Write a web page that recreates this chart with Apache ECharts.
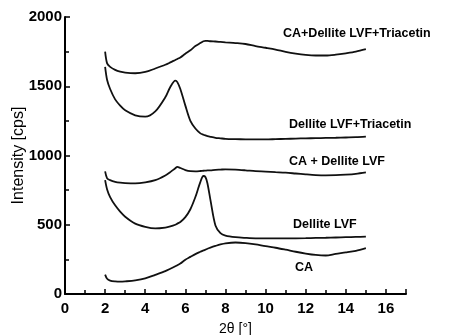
<!DOCTYPE html>
<html>
<head>
<meta charset="utf-8">
<script src="https://cdn.jsdelivr.net/npm/echarts@6/dist/echarts.min.js"></script>
<style>
  html, body { margin: 0; padding: 0; background: #fff; }
  #chart { width: 456px; height: 335px; }
</style>
</head>
<body>
<div id="chart"></div>
<script>
// 2theta positions (deg) shared by all curves
const twoTheta = [2, 2.1, 2.25, 2.5, 2.75, 3, 3.5, 4, 4.5, 5, 5.25, 5.5, 5.6, 5.75, 6, 6.25, 6.5, 6.75, 6.9, 7, 7.1, 7.25, 7.5, 7.75, 8, 8.5, 9, 9.5, 10, 10.5, 11, 11.5, 12, 12.5, 13, 13.5, 14, 14.5, 15];

const caDelliteTriacetin = [1750, 1665, 1640, 1618, 1605, 1598, 1594, 1603, 1628, 1655, 1672, 1690, 1697, 1708, 1735, 1760, 1790, 1812, 1825, 1828, 1828, 1825, 1823, 1820, 1817, 1812, 1805, 1790, 1778, 1765, 1748, 1735, 1726, 1722, 1722, 1728, 1738, 1750, 1768];
const delliteTriacetin = [1640, 1545, 1480, 1405, 1360, 1326, 1290, 1280, 1318, 1420, 1495, 1540, 1530, 1480, 1360, 1250, 1195, 1160, 1150, 1145, 1140, 1135, 1128, 1124, 1120, 1118, 1117, 1116, 1116, 1118, 1120, 1122, 1124, 1125, 1127, 1128, 1130, 1132, 1136];
const caDellite = [885, 835, 822, 810, 804, 801, 799, 806, 822, 856, 880, 908, 918, 910, 895, 887, 886, 888, 890, 891, 892, 893, 896, 898, 900, 898, 893, 887, 884, 880, 876, 870, 864, 859, 857, 858, 862, 868, 878];
const dellite = [822, 755, 700, 640, 595, 558, 508, 485, 474, 480, 488, 500, 508, 520, 555, 612, 700, 810, 852, 845, 800, 680, 495, 440, 422, 410, 405, 402, 402, 401, 402, 402, 403, 405, 406, 408, 410, 412, 414];
const ca = [140, 110, 97, 91, 89, 91, 98, 112, 138, 165, 182, 200, 208, 220, 248, 268, 288, 305, 315, 320, 327, 335, 347, 358, 366, 372, 368, 358, 345, 334, 320, 305, 292, 282, 278, 290, 300, 312, 332];

const seriesNames = ["CA+Dellite LVF+Triacetin", "Dellite LVF+Triacetin", "CA + Dellite LVF", "Dellite LVF", "CA"];
const seriesValues = [caDelliteTriacetin, delliteTriacetin, caDellite, dellite, ca];

const xTicks = [0, 2, 4, 6, 8, 10, 12, 14, 16];
const yTicks = [0, 500, 1000, 1500, 2000];

const chart = echarts.init(document.getElementById("chart"), null, { renderer: "canvas" });

const axisFont = "Liberation Sans, Arial, Helvetica, sans-serif";

// curve labels, placed to the right of each trace
const labelPos = [
  [283, 34],
  [289, 125],
  [289, 162],
  [293, 225],
  [295, 268]
];

chart.setOption({
  animation: false,
  grid: {
    left: 65,
    right: 50,
    top: 17,
    bottom: 41,
    containLabel: false,
    outerBoundsMode: "none"
  },
  xAxis: {
    type: "value",
    min: 0,
    max: 17,
    interval: 2,
    name: "2θ [°]",
    nameLocation: "middle",
    nameGap: 28,
    nameMoveOverlap: false,
    nameTextStyle: { color: "#000", fontSize: 14, fontFamily: axisFont },
    splitLine: { show: false },
    axisLine: { lineStyle: { color: "#000", width: 2 } },
    axisTick: { inside: true, length: 5, lineStyle: { color: "#000", width: 1.5 } },
    minorTick: { show: true, splitNumber: 2, length: 4, lineStyle: { color: "#000", width: 1.5 } },
    axisLabel: {
      color: "#000",
      fontSize: 15,
      fontWeight: "bold",
      fontFamily: axisFont,
      margin: 7,
      formatter: function (v) { return xTicks.indexOf(v) >= 0 ? String(v) : ""; }
    }
  },
  yAxis: {
    type: "value",
    min: 0,
    max: 2000,
    interval: 500,
    name: "Intensity [cps]",
    nameLocation: "middle",
    nameGap: 38,
    nameMoveOverlap: false,
    nameTextStyle: { color: "#000", fontSize: 16, fontFamily: axisFont },
    splitLine: { show: false },
    axisLine: { show: true, lineStyle: { color: "#000", width: 2 } },
    axisTick: { show: true, inside: true, length: 5, lineStyle: { color: "#000", width: 1.5 } },
    minorTick: { show: true, splitNumber: 2, length: 4, lineStyle: { color: "#000", width: 1.5 } },
    axisLabel: {
      color: "#000",
      fontSize: 15,
      fontWeight: "bold",
      fontFamily: axisFont,
      margin: 3,
      formatter: function (v) { return yTicks.indexOf(v) >= 0 ? String(v) : ""; }
    }
  },
  series: seriesValues.map(function (vals, i) {
    return {
      name: seriesNames[i],
      type: "line",
      data: twoTheta.map(function (x, j) { return [x, vals[j]]; }),
      showSymbol: false,
      smooth: 0.3,
      lineStyle: { color: "#111", width: 1.8 }
    };
  }),
  graphic: seriesNames.map(function (name, i) {
    return {
      type: "text",
      x: labelPos[i][0],
      y: labelPos[i][1],
      style: {
        text: name,
        fill: "#000",
        font: "bold 12.5px " + axisFont,
        textAlign: "left",
        textVerticalAlign: "middle"
      }
    };
  })
});
</script>
</body>
</html>
